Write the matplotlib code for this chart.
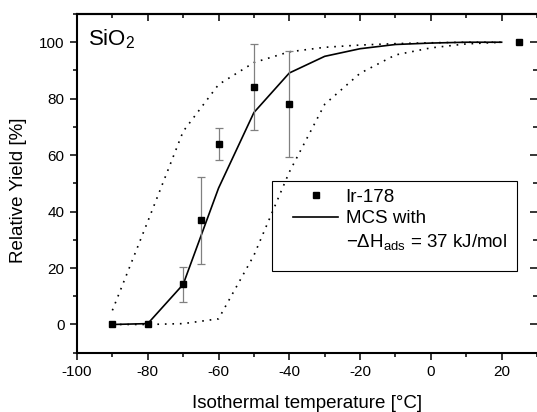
import numpy as np
import matplotlib
matplotlib.use('Agg')
import matplotlib.pyplot as plt
from matplotlib.lines import Line2D
from matplotlib.patches import Rectangle
from matplotlib.ticker import MultipleLocator

plt.rcParams['font.family'] = ['Liberation Sans', 'DejaVu Sans']
plt.rcParams['mathtext.default'] = 'regular'
plt.rcParams['axes.unicode_minus'] = False

# measured Ir-178 yields
temp = [-90, -80, -70, -65, -60, -50, -40, 25]
yld = [0, 0, 14.2, 36.9, 64.0, 84.2, 78.0, 100]
yerr = [0, 0, 6.1, 15.5, 5.7, 15.2, 18.8, 0]

# MCS simulation and its bounds (dotted)
mcs_t = [-90, -80, -70, -60, -50, -40, -30, -20, -10, 0, 10, 20]
mcs_y = [0, 0.3, 14.2, 48.3, 75.1, 89.1, 95.0, 97.7, 99.2, 99.7, 100, 100]
upper_y = [5, 36.5, 68.4, 85.0, 92.8, 96.6, 98.2, 99.0, 99.5, 99.8, 100, 100]
lower_y = [0, 0, 0.3, 2.0, 24.5, 54.0, 78.0, 89.0, 95.5, 98.0, 99.4, 100]

W, H = 537, 412
fig = plt.figure(figsize=(W / 100, H / 100), dpi=100)
ax = fig.add_axes([77 / W, (H - 352.7) / H, 460 / W, 338.7 / H])

dot = (0, (1, 3.5))
ax.plot(mcs_t, upper_y, color='black', lw=1.2, linestyle=dot, zorder=2)
ax.plot(mcs_t, lower_y, color='black', lw=1.2, linestyle=dot, zorder=2)
ax.plot(mcs_t, mcs_y, color='black', lw=1.2, zorder=2)

t = np.array(temp)
y = np.array(yld)
e = np.array(yerr)
m = e > 0
ax.errorbar(t[m], y[m], yerr=e[m], fmt='none', ecolor='#808080', elinewidth=0.9,
            capsize=2.6, capthick=0.9, zorder=3)
ax.plot(t, y, 's', color='black', markersize=5, zorder=4)

ax.set_xlim(-100, 30)
ax.set_ylim(-10, 110)
ax.xaxis.set_major_locator(MultipleLocator(20))
ax.xaxis.set_minor_locator(MultipleLocator(10))
ax.yaxis.set_major_locator(MultipleLocator(20))
ax.yaxis.set_minor_locator(MultipleLocator(10))
ax.tick_params(which='both', direction='out', width=1.1, labelsize=11, top=False, right=False)
ax.tick_params(which='major', length=5, pad=4)
ax.tick_params(which='minor', length=3)
for s in ax.spines.values():
    s.set_linewidth(1.5)
ax.spines['right'].set_visible(False)

top = ax.secondary_xaxis('top')
top.xaxis.set_major_locator(MultipleLocator(20))
top.xaxis.set_minor_locator(MultipleLocator(10))
top.tick_params(which='both', direction='in', width=1.1, labeltop=False)
top.tick_params(which='major', length=5)
top.tick_params(which='minor', length=3)
top.spines['top'].set_linewidth(1.5)

right = ax.secondary_yaxis('right')
right.yaxis.set_major_locator(MultipleLocator(20))
right.yaxis.set_minor_locator(MultipleLocator(10))
right.tick_params(which='both', direction='in', width=1.1, labelright=False)
right.tick_params(which='major', length=5)
right.tick_params(which='minor', length=3)
right.spines['right'].set_visible(False)

ax.set_xlabel('Isothermal temperature [°C]', fontsize=13.5)
ax.set_ylabel('Relative Yield [%]', fontsize=13.5)
ax.xaxis.set_label_coords(0.5, -0.125)
ax.yaxis.set_label_coords(-0.108, 0.48)

ax.text(0.024, 0.906, 'SiO$_2$', transform=ax.transAxes, fontsize=16, va='baseline')

# legend with a hand-placed frame
ax.add_patch(Rectangle((0.424, 0.241), 0.5325, 0.266, transform=ax.transAxes,
                       fill=False, edgecolor='black', lw=0.8, zorder=5))
handles = [Line2D([], [], marker='s', color='black', linestyle='none', markersize=5),
           Line2D([], [], color='black', lw=1.2),
           Line2D([], [], linestyle='none')]
labels = ['Ir-178', 'MCS with', '−ΔH$_{ads}$ = 37 kJ/mol']
ax.legend(handles, labels, loc='upper left', bbox_to_anchor=(0.4696, 0.485),
          frameon=False, fontsize=13.5, borderpad=0, borderaxespad=0,
          handlelength=2.4, handletextpad=0.4, labelspacing=0.25)

fig.savefig('out.png', dpi=100)
